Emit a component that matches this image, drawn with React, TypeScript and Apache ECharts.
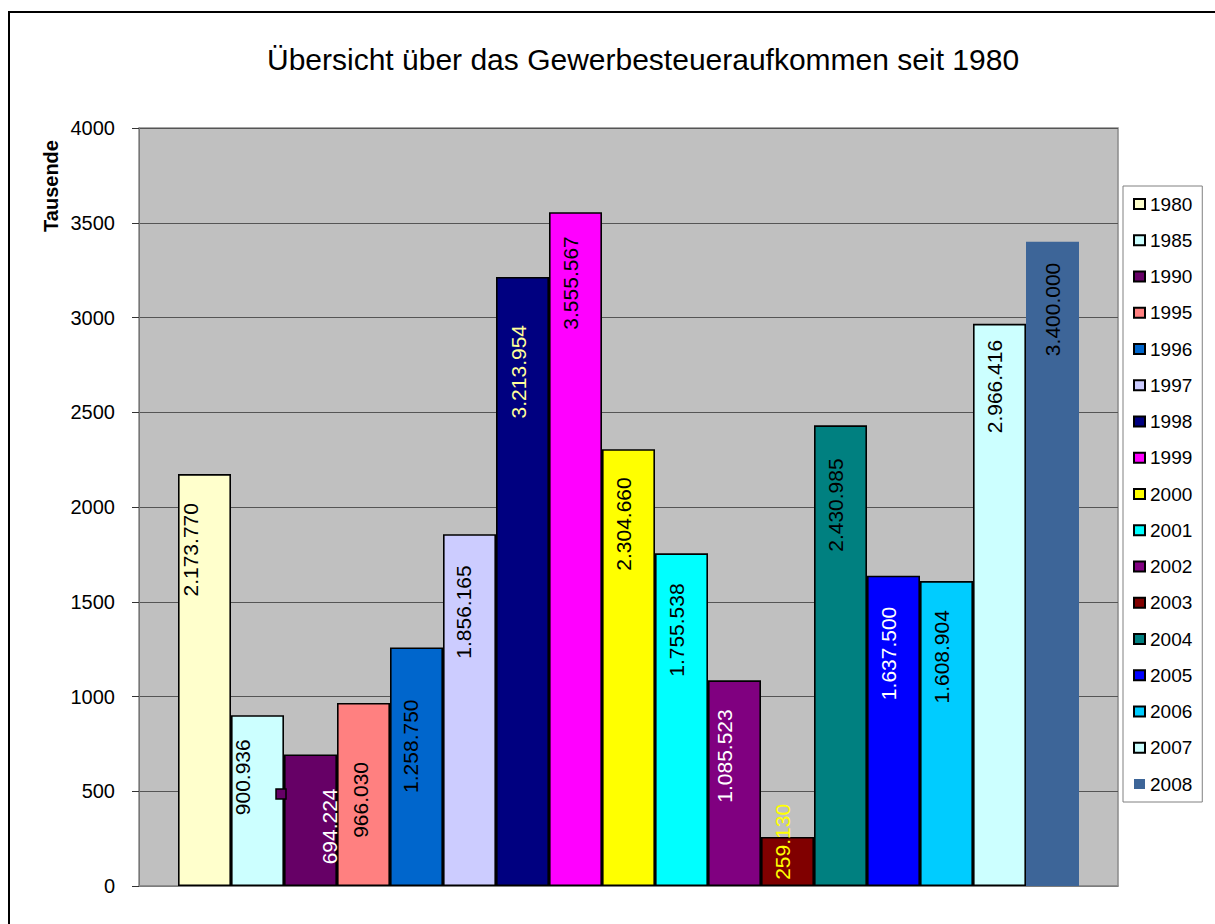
import React, { useEffect, useRef } from "react";
import * as echarts from "echarts";

// ---- data ----
const years = ["1980", "1985", "1990", "1995", "1996", "1997", "1998", "1999", "2000", "2001", "2002", "2003", "2004", "2005", "2006", "2007", "2008"];
const valuesThousands = [2173.77, 900.936, 694.224, 966.03, 1258.75, 1856.165, 3213.954, 3555.567, 2304.66, 1755.538, 1085.523, 259.13, 2430.985, 1637.5, 1608.904, 2966.416, 3400.0];
const yTicks = [0, 500, 1000, 1500, 2000, 2500, 3000, 3500, 4000];
const titleText = "Übersicht über das Gewerbesteueraufkommen seit 1980";
const yAxisTitle = "Tausende";

// ---- styling ----
const barColors = ["#FFFFCC", "#CCFFFF", "#660066", "#FF8080", "#0066CC", "#CCCCFF", "#000080", "#FF00FF", "#FFFF00", "#00FFFF", "#800080", "#800000", "#008080", "#0000FF", "#00CCFF", "#CCFFFF", "#3D6598"];
const labelColors = ["#000", "#000", "#fff", "#000", "#000", "#000", "#FFFF99", "#000", "#000", "#000", "#fff", "#FFFF00", "#000", "#fff", "#000", "#000", "#000"];
const labelDistance = [29, 24, 34, 59, 52, 31, 48, 24, 28, 30, 29, -33, 33, 31, 29, 16, 21];
const labelShift = [-14, -15, 19, -3, -6, -6, -4, -5, -5, -5, -10, -5, -5, -5, -5, -5, 0];
const FONT = "'Liberation Sans', Arial, sans-serif";

function fmtDE(v: number): string {
  const n = Math.round(v * 1000).toString();
  return n.replace(/\B(?=(\d{3})+(?!\d))/g, ".");
}

export default function App() {
  const ref = useRef<HTMLDivElement>(null);
  useEffect(() => {
    if (!ref.current) return;
    const chart = echarts.init(ref.current, null, { renderer: "svg" });
    const series = years.map((y, i) => ({
      name: y,
      type: "bar",
      data: [valuesThousands[i]],
      barWidth: 53,
      barGap: "0%",
      itemStyle: {
        color: barColors[i],
        borderColor: i === years.length - 1 ? "transparent" : "#000",
        borderWidth: i === years.length - 1 ? 0 : 1.6,
      },
      label: {
        show: true,
        position: "insideTop",
        distance: labelDistance[i],
        rotate: 90,
        align: "right",
        verticalAlign: "middle",
        offset: [0, labelShift[i]],
        color: labelColors[i],
        fontFamily: FONT,
        fontSize: 21,
        textBorderWidth: 0,
        formatter: (p: any) => fmtDE(p.value),
      },
    }));
    chart.setOption({
      animation: false,
      backgroundColor: "#fff",
      title: {
        text: titleText,
        left: 267,
        top: 44,
        padding: 0,
        textStyle: { fontFamily: FONT, fontSize: 30, fontWeight: "normal", color: "#000" },
      },
      grid: {
        left: 139,
        top: 128,
        right: 1215 - 1118,
        bottom: 924 - 886,
        show: true,
        backgroundColor: "#C0C0C0",
        borderColor: "#8a8a8a",
        borderWidth: 1.5,
      },
      legend: {
        orient: "vertical",
        left: 1123,
        top: 186,
        padding: [8, 10, 8, 10],
        itemGap: 16.25,
        itemWidth: 11,
        itemHeight: 10,
        itemTextGap: 4,
        icon: "rect",
        backgroundColor: "#fff",
        borderColor: "#808080",
        borderWidth: 1,
        data: years,
        textStyle: { fontFamily: FONT, fontSize: 19, color: "#000", lineHeight: 20 },
      },
      xAxis: {
        type: "category",
        data: [""],
        axisLabel: { show: false },
        axisTick: { show: false },
        axisLine: { show: true, lineStyle: { color: "#8a8a8a", width: 1.5 } },
      },
      yAxis: {
        type: "value",
        min: yTicks[0],
        max: yTicks[yTicks.length - 1],
        interval: yTicks[1] - yTicks[0],
        axisLine: { show: true, lineStyle: { color: "#777", width: 1 } },
        axisTick: { show: true, length: 7, lineStyle: { color: "#333" } },
        axisLabel: {
          margin: 24,
          fontFamily: FONT,
          fontSize: 20,
          color: "#000",
          formatter: (v: number) => String(v),
        },
        splitLine: { show: true, lineStyle: { color: "#555", width: 1 } },
      },
      graphic: [
        {
          type: "rect",
          shape: { x: 9, y: 12, width: 1400, height: 1100 },
          style: { fill: "none", stroke: "#000", lineWidth: 2 },
          silent: true,
          z: 100,
        },
        {
          type: "text",
          x: 51,
          y: 186,
          rotation: Math.PI / 2,
          style: {
            text: yAxisTitle,
            font: "bold 20px " + FONT,
            fill: "#000",
            textAlign: "center",
            textVerticalAlign: "middle",
          },
        },
        {
          type: "rect",
          shape: { x: 276, y: 789, width: 10, height: 10 },
          style: { fill: barColors[2], stroke: "#000", lineWidth: 1.5 },
          z: 100,
        },
      ],
      series,
    });
    return () => chart.dispose();
  }, []);
  return <div ref={ref} style={{ position: "fixed", left: 0, top: 0, width: 1215, height: 924 }} />;
}
